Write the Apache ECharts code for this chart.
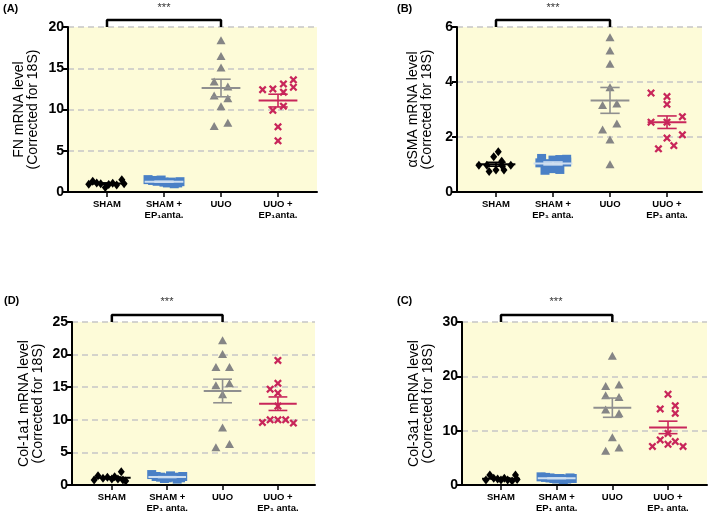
<!DOCTYPE html>
<html>
<head>
<meta charset="utf-8">
<script src="https://cdn.jsdelivr.net/npm/echarts@6/dist/echarts.min.js"></script>
<style>
  html, body { margin: 0; padding: 0; background: #fff; }
  #main { width: 709px; height: 517px; }
</style>
</head>
<body>
<div id="main"></div>
<script>
// group names (A uses no space before "anta.")
const groupsA = ['SHAM', 'SHAM +\nEP\u2081anta.', 'UUO', 'UUO +\nEP\u2081anta.'];
const groups = ['SHAM', 'SHAM +\nEP\u2081 anta.', 'UUO', 'UUO +\nEP\u2081 anta.'];

// (A) FN
const fnSham = [0.95, 1.3, 1.1, 1.0, 0.55, 0.9, 1.05, 0.85, 1.5, 1.0];
const fnShamEp = [1.5, 1.4, 1.3, 1.45, 1.2, 1.1, 1.2, 1.0, 1.1, 1.25];
const fnUuo = [18.4, 16.5, 15.1, 13.4, 12.8, 11.7, 11.35, 10.4, 8.0, 8.4];
const fnUuoEp = [12.4, 12.5, 13.1, 13.6, 12.7, 12.1, 9.9, 10.4, 7.9, 6.2];

// (B) aSMA
const smaSham = [1.46, 1.28, 1.12, 0.97, 0.97, 0.97, 0.97, 0.75, 0.8, 0.8];
const smaShamEp = [1.22, 1.03, 1.16, 1.18, 1.19, 0.79, 0.85, 0.82, 1.06, 1.09];
const smaUuo = [5.63, 5.15, 4.66, 3.81, 3.16, 3.22, 2.49, 2.27, 1.91, 1.01];
const smaUuoEp = [3.6, 3.47, 3.19, 2.54, 2.54, 2.74, 2.08, 1.96, 1.69, 1.57];

// (D) Col-1a1
const col1Sham = [0.77, 1.43, 1.02, 1.18, 0.92, 1.28, 0.92, 2.05, 0.77, 0.61];
const col1ShamEp = [1.6, 1.3, 1.2, 1.0, 1.1, 1.4, 1.2, 0.9, 1.1, 1.3];
const col1Uuo = [22.2, 20.1, 18.1, 18.1, 15.3, 15.6, 13.9, 8.8, 5.8, 6.3];
const col1UuoEp = [19.1, 15.6, 14.7, 14.1, 12.1, 9.6, 10.0, 10.0, 10.0, 9.5];

// (C) Col-3a1
const col3Sham = [0.9, 1.84, 1.23, 1.1, 0.92, 1.23, 0.92, 1.84, 0.74, 1.0];
const col3ShamEp = [1.5, 1.4, 1.3, 1.2, 1.1, 1.2, 1.0, 1.1, 1.3, 1.2];
const col3Uuo = [23.8, 18.2, 18.5, 16.5, 16.2, 13.9, 13.2, 8.8, 6.3, 6.9];
const col3UuoEp = [16.7, 14.0, 14.6, 13.2, 9.5, 8.3, 7.1, 7.5, 8.0, 7.1];

// horizontal scatter of the points around each group (in group units)
const jitFnSham = [-0.32, -0.25, -0.18, -0.11, -0.03, 0.03, 0.1, 0.17, 0.26, 0.3];
const jitFnUuo = [0, 0, 0, -0.12, 0.12, -0.12, 0.12, 0, -0.12, 0.12];
const jitFnUuoEp = [-0.27, -0.09, 0.095, 0.27, 0.27, 0.095, -0.09, 0.095, 0, 0];
const jitSmaSham = [0.04, -0.04, 0.1, -0.3, -0.16, 0.1, 0.26, -0.12, 0.0, 0.14];
const jitSmaShamEp = [-0.2, -0.08, 0, 0.12, 0.24, -0.14, 0, 0.12, -0.23, 0.24];
const jitSmaUuo = [0, 0, 0, 0, -0.13, 0.12, 0.12, -0.13, 0, 0];
const jitSmaUuoEp = [-0.28, 0, 0, -0.28, 0, 0.27, 0.27, 0, 0.12, -0.15];
const jitCol1Sham = [-0.32, -0.25, -0.16, -0.08, 0, 0.05, 0.11, 0.17, 0.2, 0.25];
const jitCol1Uuo = [0, 0, -0.12, 0.125, -0.12, 0.125, 0, 0, -0.12, 0.125];
const jitCol1UuoEp = [0, 0, -0.14, 0, 0, -0.28, -0.14, 0, 0.14, 0.28];
const jitCol3Sham = [-0.27, -0.2, -0.13, -0.06, 0, 0.06, 0.12, 0.26, 0.2, 0.29];
const jitCol3Uuo = [0, -0.12, 0.12, -0.12, 0.12, -0.12, 0.12, 0, -0.12, 0.12];
const jitCol3UuoEp = [0, -0.14, 0.13, 0.13, 0, -0.14, -0.28, 0, 0.13, 0.27];
const jitBlue = [-0.28, -0.2, -0.12, -0.05, 0.0, 0.06, 0.12, 0.18, 0.24, 0.28];

const font = 'Liberation Sans, Arial, sans-serif';
const cross = 'path://M0,2L2,0L5,3L8,0L10,2L7,5L10,8L8,10L5,7L2,10L0,8L3,5Z';
const looks = [
    {symbol: 'diamond', size: [7, 9], color: '#000000', bar: '#000000'},
    {symbol: 'rect', size: [9, 9], color: '#4a80c6', bar: '#cfdff0'},
    {symbol: 'triangle', size: [9, 8], color: '#858585', bar: '#8f8f8f'},
    {symbol: cross, size: [8, 8], color: '#c8265a', bar: '#c8265a'}
];

const panels = [
    {
        title: 'FN mRNA level\n(Corrected for 18S)', cats: groupsA,
        grid: {left: 68, top: 27, width: 249, height: 165}, xr: [-0.684, 3.684],
        max: 20, step: 5, gap: 28,
        data: [fnSham, fnShamEp, fnUuo, fnUuoEp], jit: [jitFnSham, jitBlue, jitFnUuo, jitFnUuoEp]
    },
    {
        title: '\u03b1SMA mRNA level\n(Corrected for 18S)', cats: groups,
        grid: {left: 457, top: 27, width: 245, height: 165}, xr: [-0.684, 3.614],
        max: 6, step: 2, gap: 23,
        data: [smaSham, smaShamEp, smaUuo, smaUuoEp], jit: [jitSmaSham, jitSmaShamEp, jitSmaUuo, jitSmaUuoEp]
    },
    {
        title: 'Col-1a1 mRNA level\n(Corrected for 18S)', cats: groups,
        grid: {left: 72, top: 322, width: 243, height: 163}, xr: [-0.72, 3.67],
        max: 25, step: 5, gap: 27,
        data: [col1Sham, col1ShamEp, col1Uuo, col1UuoEp], jit: [jitCol1Sham, jitBlue, jitCol1Uuo, jitCol1UuoEp]
    },
    {
        title: 'Col-3a1 mRNA level\n(Corrected for 18S)', cats: groups,
        grid: {left: 462, top: 322, width: 245, height: 163}, xr: [-0.70, 3.70],
        max: 30, step: 10, gap: 27,
        data: [col3Sham, col3ShamEp, col3Uuo, col3UuoEp], jit: [jitCol3Sham, jitBlue, jitCol3Uuo, jitCol3UuoEp]
    }
];

function meanSem(arr) {
    let m = arr.reduce((a, b) => a + b, 0) / arr.length
    let v = arr.reduce((a, b) => a + (b - m) * (b - m), 0) / (arr.length - 1)
    return [m, Math.sqrt(v / arr.length)]
}

function errorBars(params, api) {
    let x = api.value(0), m = api.value(1), s = api.value(2)
    let c = api.coord([x, m]), lo = api.coord([x, m - s]), hi = api.coord([x, m + s])
    let hw = api.size([0.34, 0])[0], cw = api.size([0.17, 0])[0]
    let st = {stroke: looks[api.value(3)].bar, lineWidth: 1.6}
    return {
        type: 'group',
        children: [
            {type: 'line', shape: {x1: c[0] - hw, y1: c[1], x2: c[0] + hw, y2: c[1]}, style: Object.assign({}, st, {lineWidth: 2})},
            {type: 'line', shape: {x1: c[0], y1: lo[1], x2: c[0], y2: hi[1]}, style: st},
            {type: 'line', shape: {x1: c[0] - cw, y1: lo[1], x2: c[0] + cw, y2: lo[1]}, style: st},
            {type: 'line', shape: {x1: c[0] - cw, y1: hi[1], x2: c[0] + cw, y2: hi[1]}, style: st}
        ]
    }
}

let grid = [], xAxis = [], yAxis = [], series = []

panels.forEach((p, i) => {
    grid.push(Object.assign({show: true, backgroundColor: '#fdfbd8', borderWidth: 0}, p.grid))
    xAxis.push({
        type: 'value', gridIndex: i, min: p.xr[0], max: p.xr[1],
        splitLine: {show: false},
        axisLine: {show: true, onZero: false, lineStyle: {color: '#000', width: 2}},
        axisTick: {show: true, customValues: [0, 1, 2, 3], length: 5, lineStyle: {color: '#000', width: 1.5}},
        axisLabel: {
            customValues: [0, 1, 2, 3], formatter: v => p.cats[Math.round(v)],
            color: '#000', fontFamily: font, fontWeight: 'bold', fontSize: 9.5, lineHeight: 11, margin: 7
        }
    })
    yAxis.push({
        type: 'value', gridIndex: i, min: 0, max: p.max, interval: p.step,
        name: p.title, nameLocation: 'middle', nameGap: p.gap, nameRotate: 90,
        nameTextStyle: {color: '#000', fontFamily: font, fontSize: 14, lineHeight: 14},
        axisLine: {show: true, onZero: false, lineStyle: {color: '#000', width: 2}},
        axisTick: {show: true, length: 5, lineStyle: {color: '#000', width: 2}},
        axisLabel: {color: '#000', fontFamily: font, fontWeight: 'bold', fontSize: 14, margin: 4},
        splitLine: {show: true, lineStyle: {color: '#c6c6c6', width: 1.5, type: [6, 4]}}
    })
    p.data.forEach((vals, g) => {
        let lk = looks[g]
        series.push({
            type: 'scatter', xAxisIndex: i, yAxisIndex: i,
            symbol: lk.symbol, symbolSize: lk.size,
            itemStyle: {color: lk.color, opacity: 1},
            data: vals.map((v, k) => [g + p.jit[g][k], v]),
            z: 3
        })
    })
    series.push({
        type: 'custom', xAxisIndex: i, yAxisIndex: i, z: 4,
        renderItem: errorBars,
        data: p.data.map((vals, g) => {
            let ms = meanSem(vals)
            return [g, ms[0], ms[1], g]
        })
    })
    // significance bracket between SHAM and UUO
    let top = p.max * 1.043
    series.push({
        type: 'line', xAxisIndex: i, yAxisIndex: i, clip: false, symbol: 'none', silent: true,
        lineStyle: {color: '#000', width: 2.5},
        data: [[0, p.max], [0, top], [2, top], [2, p.max]],
        z: 5
    })
})

let labelStyle = {fill: '#000', font: 'bold 11px ' + font}
let starStyle = {fill: '#333', font: '11px ' + font, textAlign: 'center'}

let myChart = echarts.init(document.getElementById('main'))
myChart.setOption({
    animation: false,
    grid: grid,
    xAxis: xAxis,
    yAxis: yAxis,
    series: series,
    graphic: [
        {type: 'text', left: 3, top: 3, style: Object.assign({text: '(A)'}, labelStyle)},
        {type: 'text', left: 397, top: 3, style: Object.assign({text: '(B)'}, labelStyle)},
        {type: 'text', left: 4, top: 295, style: Object.assign({text: '(D)'}, labelStyle)},
        {type: 'text', left: 397, top: 295, style: Object.assign({text: '(C)'}, labelStyle)},
        {type: 'text', x: 164, y: 2, style: Object.assign({text: '***'}, starStyle)},
        {type: 'text', x: 553, y: 2, style: Object.assign({text: '***'}, starStyle)},
        {type: 'text', x: 167, y: 296, style: Object.assign({text: '***'}, starStyle)},
        {type: 'text', x: 556, y: 296, style: Object.assign({text: '***'}, starStyle)}
    ]
})
</script>
</body>
</html>
